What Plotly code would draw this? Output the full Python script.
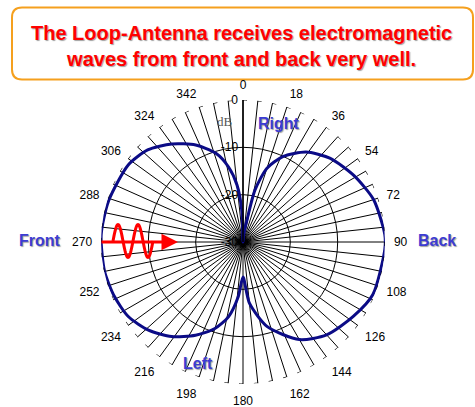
import plotly.graph_objects as go
import math

# ---------------- data ----------------
theta_deg = [0, 5, 10, 13, 18, 25, 35, 46, 59, 72, 87, 93, 112, 124, 138, 150, 164,
             174, 180, 185, 191, 198, 207, 217, 227, 237, 247, 258, 273, 287, 304,
             314, 324, 334, 343, 349, 354, 358, 360]
r_db = [-30, -28.5, -25.6, -18.7, -13.6, -10.1, -6.8, -4.5, -2.7, -1.0, 0, 0, -0.4,
        -1.9, -3.6, -6.2, -11.4, -17.0, -22.6, -18.4, -13.9, -10.8, -7.9, -5.0, -2.7,
        -1.1, -0.5, -0.1, 0, -0.3, -0.8, -2.0, -4.4, -7.2, -10.4, -13.8, -17.9, -23.6, -30]

angle_labels = list(range(0, 360, 18))
spoke_angles = list(range(0, 360, 6))
radial_ticks = [-30, -20, -10, 0]
radial_text = ["-30", "-20", "-10", "0"]

title_text = "The Loop-Antenna receives electromagnetic<br>waves from front and back very well."
side_labels = ["Front", "Back", "Right", "Left"]

# ---------------- layout helpers ----------------
W, H = 475, 407
cx, cy, R = 243, 242, 142


def px(x):
    return x / W


def py(y):
    return 1 - y / H


fig = go.Figure()

fig.add_trace(go.Scatterpolar(
    r=r_db, theta=theta_deg, mode="lines",
    line=dict(color="#0b0b86", width=3, shape="spline", smoothing=0.7),
    hoverinfo="skip", showlegend=False))

# outer broken rim (short hooks at the ends of spokes)
rim_theta = [i * 0.5 for i in range(0, 721)]
fig.add_trace(go.Scatterpolar(
    r=[0] * len(rim_theta), theta=rim_theta, mode="lines",
    line=dict(color="black", width=1.2, dash="4px,10.87px"),
    cliponaxis=False, hoverinfo="skip", showlegend=False))

ticktext = [str(a) if a in angle_labels else "" for a in spoke_angles]

fig.update_layout(
    width=W, height=H,
    margin=dict(l=0, r=0, t=0, b=0),
    paper_bgcolor="white",
    showlegend=False,
    polar=dict(
        domain=dict(x=[px(cx - R), px(cx + R)], y=[py(cy + R), py(cy - R)]),
        bgcolor="white",
        angularaxis=dict(
            rotation=90, direction="clockwise",
            tickmode="array", tickvals=spoke_angles, ticktext=ticktext,
            showline=False, showgrid=True, gridcolor="black", gridwidth=1,
            ticks="outside", ticklen=6, tickcolor="rgba(0,0,0,0)",
            tickfont=dict(family="Liberation Sans, Arial", size=12, color="black"),
        ),
        radialaxis=dict(
            range=[-30, 0], tickmode="array", tickvals=radial_ticks, ticktext=radial_text,
            angle=90, side="counterclockwise", tickangle=90,
            showline=True, linecolor="black", linewidth=1.5,
            showgrid=True, gridcolor="black", gridwidth=1,
            ticks="",
            tickfont=dict(family="Liberation Sans, Arial", size=12, color="black"),
        ),
    ),
)

# rounded title box
x0, x1 = px(12), px(473)
yt, yb = py(7.5), py(79.5)
rx, ry = 10 / W, 10 / H
path = (f"M {x0+rx},{yt} L {x1-rx},{yt} Q {x1},{yt} {x1},{yt-ry} "
        f"L {x1},{yb+ry} Q {x1},{yb} {x1-rx},{yb} L {x0+rx},{yb} "
        f"Q {x0},{yb} {x0},{yb+ry} L {x0},{yt-ry} Q {x0},{yt} {x0+rx},{yt} Z")
shapes = [dict(type="path", xref="paper", yref="paper", path=path,
               line=dict(color="#F5A01E", width=2), fillcolor="white", layer="below")]

# sine wave decoration on the arrow
pts = []
for i in range(0, 81):
    x = 113 + i * 0.5
    y = 241 - 16.5 * math.sin(2 * math.pi * (x - 113) / 20.0)
    pts.append((px(x), py(y)))
wave = "M " + " L ".join(f"{a:.5f},{b:.5f}" for a, b in pts)
shapes.append(dict(type="path", xref="paper", yref="paper", path=wave,
                   line=dict(color="red", width=3)))
fig.update_layout(shapes=shapes)

shadow = "1px 1px 1px rgba(120,120,120,0.7)"
annotations = [
    dict(x=px(241), y=py(46), xref="paper", yref="paper", text="<b>" + title_text + "</b>",
         showarrow=False, xanchor="center", yanchor="middle",
         font=dict(family="Liberation Sans, Arial", size=20, color="#FF0000", shadow=shadow)),
    dict(x=px(178), y=py(242), xref="paper", yref="paper", text="",
         showarrow=True, ax=-78, ay=0, arrowhead=2, arrowsize=1.1, arrowwidth=3,
         arrowcolor="red"),
    dict(x=px(225), y=py(122), xref="paper", yref="paper", text="dB", showarrow=False,
         xanchor="center", yanchor="middle",
         font=dict(family="Liberation Serif, Times New Roman", size=13, color="#555555")),
]
label_pos = [(40, 241), (437, 241), (279, 123), (197.5, 363)]
for lab, (lx, ly) in zip(side_labels, label_pos):
    annotations.append(dict(x=px(lx), y=py(ly), xref="paper", yref="paper",
                            text="<b>" + lab + "</b>", showarrow=False,
                            xanchor="center", yanchor="middle",
                            font=dict(family="Liberation Sans, Arial", size=16,
                                      color="#3C3CD2", shadow=shadow)))
fig.update_layout(annotations=annotations)

fig.write_html("out.html", config={"displayModeBar": False},
               post_script="document.body.style.margin='0px';")
